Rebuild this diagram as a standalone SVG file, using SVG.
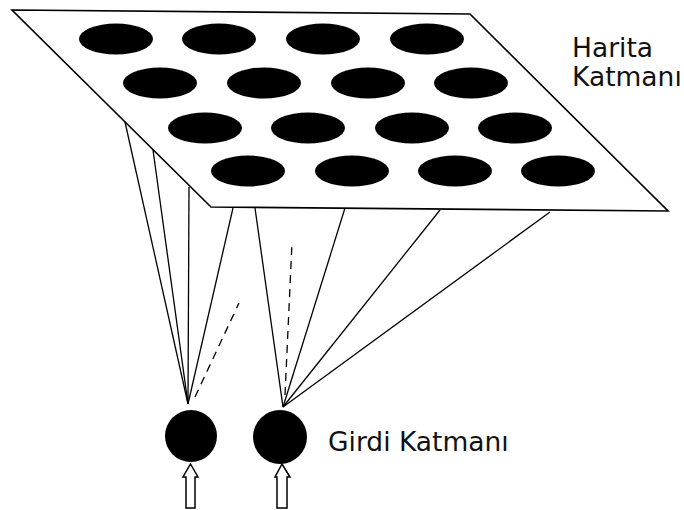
<svg xmlns="http://www.w3.org/2000/svg" width="684" height="510" viewBox="0 0 684 510">
<style>
.ln{stroke:#000;stroke-width:1.3;fill:none}
.ds{stroke:#000;stroke-width:1.3;fill:none;stroke-dasharray:8,6}
.plate{fill:#fff;stroke:#000;stroke-width:1.6;stroke-linejoin:miter}
.el{fill:#000}
.nd{fill:#000}
.ar{fill:#fff;stroke:#000;stroke-width:1.5;stroke-linejoin:miter}
.tx{font-family:"DejaVu Sans",Verdana,sans-serif;font-size:26.5px;fill:#111}
</style>
<defs>
<ellipse id="e" rx="37" ry="15.5"/>
</defs>
<g id="connectors">
<line class="ln" x1="188" y1="404" x2="125" y2="122"/>
<line class="ln" x1="188" y1="404" x2="153" y2="150"/>
<line class="ln" x1="188" y1="404" x2="189" y2="187"/>
<line class="ln" x1="188" y1="404" x2="233" y2="208"/>
<line class="ds" x1="195" y1="397" x2="239" y2="303"/>
<line class="ln" x1="283" y1="407" x2="255" y2="208"/>
<line class="ds" x1="285" y1="395" x2="292" y2="243"/>
<line class="ln" x1="283" y1="407" x2="345" y2="208"/>
<line class="ln" x1="283" y1="407" x2="440" y2="210"/>
<line class="ln" x1="283" y1="407" x2="550" y2="212"/>
</g>
<g id="map-layer">
<polygon class="plate" points="12,10 470,14 668,211 211,207"/>
<g class="el">
<use href="#e" x="116" y="39"/><use href="#e" x="219" y="39"/><use href="#e" x="323" y="39"/><use href="#e" x="427" y="39"/>
<use href="#e" x="160" y="83"/><use href="#e" x="264" y="83"/><use href="#e" x="368" y="83"/><use href="#e" x="471" y="83"/>
<use href="#e" x="205" y="128"/><use href="#e" x="308" y="128"/><use href="#e" x="412" y="128"/><use href="#e" x="515" y="128"/>
<use href="#e" x="248" y="171"/><use href="#e" x="352" y="171"/><use href="#e" x="455" y="171"/><use href="#e" x="558" y="171"/>
</g>
<text class="tx" x="572" y="57">Harita</text>
<text class="tx" x="572" y="86">Katmanı</text>
</g>
<g id="input-node-1">
<circle class="nd" cx="191" cy="436" r="26"/>
<polygon class="ar" points="190.5,464 198,477 195,477 195,508 186,508 186,477 183,477"/>
</g>
<g id="input-node-2">
<circle class="nd" cx="280" cy="437" r="27"/>
<polygon class="ar" points="282,464 290,477 287,477 287,508 277,508 277,477 275,477"/>
</g>
<g id="input-label">
<text class="tx" x="328" y="451">Girdi Katmanı</text>
</g>
</svg>
